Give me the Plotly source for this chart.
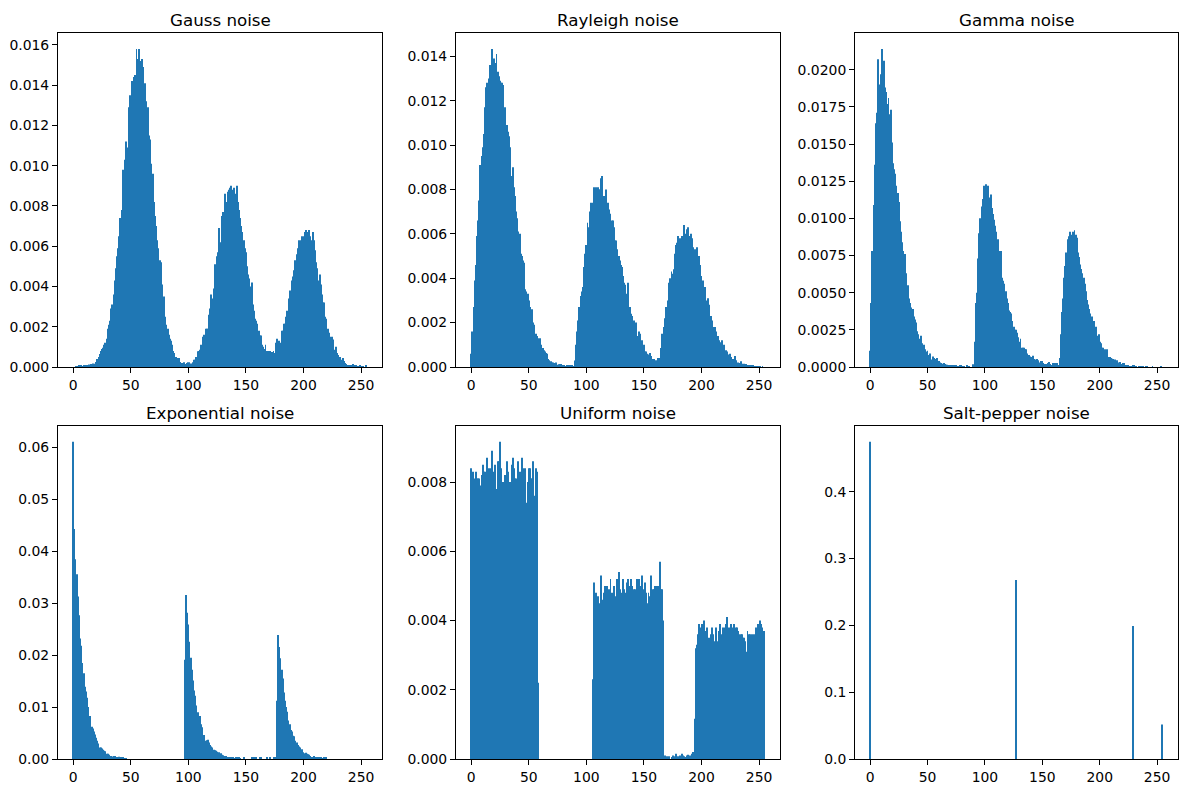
import plotly.graph_objects as go

bins = list(range(256))
x_ticks = [0, 50, 100, 150, 200, 250]

gauss_rows = [
    [0, 0, 0.00002, 0.00003, 0.00002, 0.00005, 0.00003, 0.00005, 0.00004, 0.00006, 0.00005, 0.00006, 0.00008, 0.0001, 0.00012, 0.00015],
    [0.00015, 0.00017, 0.00015, 0.00016, 0.00025, 0.0004, 0.0005, 0.00065, 0.0008, 0.0009, 0.00095, 0.0011, 0.0012, 0.0014, 0.0019, 0.0021],
    [0.0023, 0.0029, 0.0031, 0.0036, 0.0043, 0.0049, 0.0055, 0.0059, 0.0065, 0.0074, 0.0078, 0.0098, 0.0091, 0.0103, 0.0112, 0.0109],
    [0.0129, 0.0135, 0.0133, 0.0142, 0.0140, 0.0144, 0.0145, 0.0158, 0.0153, 0.0158, 0.0148, 0.0152, 0.0153, 0.0149, 0.0141, 0.0132],
    [0.0126, 0.0129, 0.0115, 0.0113, 0.0101, 0.0096, 0.0082, 0.0075, 0.0070, 0.0063, 0.0059, 0.0053, 0.0052, 0.0041, 0.0034, 0.0035],
    [0.0025, 0.0021, 0.0019, 0.0016, 0.0014, 0.0013, 0.0011, 0.0008, 0.0007, 0.0005, 0.0004, 0.00045, 0.00045, 0.00025, 0.0002, 0.0002],
    [0.00023, 0.00012, 0.00015, 0.0002, 0.00023, 0.00023, 0.00017, 0.0001, 0.00023, 0.00036, 0.00036, 0.0005, 0.00078, 0.0008, 0.00086, 0.0011],
    [0.0010, 0.0015, 0.0016, 0.0019, 0.0019, 0.0019, 0.0026, 0.0029, 0.0036, 0.0034, 0.0039, 0.0051, 0.0049, 0.0055, 0.0057, 0.0069],
    [0.0062, 0.0075, 0.0077, 0.0073, 0.0086, 0.0082, 0.0087, 0.0088, 0.0089, 0.0090, 0.0087, 0.0088, 0.0089, 0.0086, 0.0090, 0.0082],
    [0.0078, 0.0074, 0.0070, 0.0067, 0.0063, 0.0059, 0.0057, 0.0050, 0.0046, 0.0044, 0.0040, 0.0042, 0.0031, 0.0028, 0.0024, 0.0023],
    [0.00215, 0.0018, 0.00156, 0.00156, 0.0011, 0.0010, 0.0009, 0.0011, 0.0008, 0.0008, 0.0008, 0.0008, 0.0007, 0.00075, 0.0008, 0.0007],
    [0.0012, 0.0014, 0.0011, 0.0013, 0.0012, 0.0018, 0.0018, 0.00215, 0.00215, 0.0025, 0.0028, 0.0034, 0.0038, 0.0037, 0.0043, 0.0045],
    [0.0048, 0.0053, 0.0056, 0.0059, 0.0063, 0.0055, 0.0063, 0.0065, 0.0065, 0.0067, 0.0068, 0.0067, 0.0064, 0.0068, 0.0065, 0.0063],
    [0.0067, 0.0063, 0.0058, 0.0052, 0.0049, 0.0043, 0.0046, 0.0041, 0.0036, 0.0032, 0.0032, 0.0025, 0.0024, 0.0019, 0.0017, 0.0015],
    [0.0014, 0.0015, 0.00136, 0.00086, 0.0010, 0.0007, 0.0006, 0.0005, 0.0005, 0.00036, 0.00045, 0.0003, 0.0002, 0.00015, 0.0001, 0.0001],
    [0.0001, 0.00008, 0.00008, 0.00015, 0.00005, 0.00008, 0.00005, 0.00003, 0.00002, 0.00005, 0.00002, 0, 0.00002, 0, 0.00005, 0],
]

rayleigh_rows = [
    [0.0006, 0.0016, 0.0027, 0.0039, 0.0046, 0.0059, 0.0066, 0.0075, 0.0091, 0.0095, 0.0099, 0.0105, 0.0117, 0.0126, 0.0128, 0.0130],
    [0.0136, 0.0134, 0.01433, 0.0134, 0.0139, 0.0137, 0.0141, 0.0133, 0.0131, 0.0129, 0.0128, 0.0128, 0.0127, 0.0117, 0.0109, 0.0109],
    [0.0106, 0.0104, 0.0099, 0.0086, 0.0090, 0.0081, 0.0077, 0.0070, 0.0067, 0.0061, 0.0060, 0.0051, 0.0050, 0.0048, 0.0047, 0.0035],
    [0.0034, 0.0033, 0.0030, 0.0027, 0.0025, 0.0026, 0.0020, 0.0019, 0.0015, 0.0014, 0.0013, 0.0012, 0.0013, 0.0010, 0.00086, 0.00075],
    [0.0007, 0.00063, 0.0006, 0.00036, 0.0003, 0.00026, 0.0002, 0.0002, 0.00018, 0.00015, 0.0002, 0.0001, 0.00012, 0.00013, 0.00013, 0.00008],
    [0.00008, 0.00006, 0.00003, 0.00005, 0.00005, 0.00008, 0.00002, 0.00006, 0.00005, 0.00003, 0.00029, 0.0010, 0.0016, 0.0021, 0.0027, 0.0032],
    [0.0034, 0.0036, 0.0045, 0.0051, 0.0055, 0.0065, 0.0063, 0.0070, 0.0074, 0.0071, 0.0074, 0.0081, 0.0081, 0.0072, 0.0081, 0.0080],
    [0.0080, 0.0085, 0.0086, 0.0077, 0.0076, 0.0080, 0.0072, 0.0074, 0.0071, 0.0069, 0.0066, 0.0066, 0.0063, 0.0057, 0.0057, 0.0053],
    [0.0050, 0.0048, 0.0046, 0.0045, 0.0041, 0.0038, 0.0037, 0.0033, 0.0038, 0.0027, 0.0027, 0.0024, 0.0023, 0.0021, 0.0019, 0.0020],
    [0.0014, 0.0014, 0.0016, 0.0015, 0.0012, 0.0009, 0.0010, 0.0007, 0.0007, 0.0006, 0.00056, 0.00063, 0.0005, 0.0003, 0.00036, 0.00036],
    [0.0003, 0.0003, 0.0004, 0.00018, 0.0004, 0.00086, 0.0015, 0.0018, 0.0022, 0.0027, 0.0026, 0.0030, 0.0038, 0.0040, 0.0043, 0.0042],
    [0.0044, 0.0051, 0.0055, 0.0056, 0.0059, 0.0058, 0.0056, 0.0059, 0.0059, 0.0064, 0.0060, 0.0062, 0.0063, 0.0059, 0.0057, 0.0060],
    [0.0058, 0.0054, 0.0053, 0.0051, 0.0054, 0.0050, 0.0050, 0.0046, 0.0041, 0.0039, 0.0036, 0.0036, 0.0030, 0.0028, 0.0031, 0.0028],
    [0.0023, 0.0021, 0.0017, 0.0018, 0.0018, 0.0016, 0.0014, 0.0012, 0.0011, 0.0011, 0.0012, 0.0010, 0.0010, 0.00075, 0.0007, 0.00056],
    [0.00045, 0.0006, 0.00045, 0.00036, 0.00028, 0.0005, 0.0003, 0.00018, 0.0002, 0.00018, 0.00026, 0.00015, 0.00008, 0.00015, 0.0001, 0.00013],
    [0.00008, 0.00008, 0.00008, 0.00003, 0.00008, 0.00005, 0.00004, 0.00004, 0, 0.00004, 0, 0.00004, 0, 0.00004, 0, 0],
]

gamma_rows = [
    [0.0011, 0.0043, 0.0078, 0.0109, 0.0136, 0.0164, 0.0171, 0.0207, 0.0190, 0.0197, 0.0214, 0.0203, 0.0206, 0.0188, 0.0185, 0.0177],
    [0.0181, 0.0170, 0.0173, 0.0151, 0.0137, 0.0133, 0.0130, 0.0122, 0.0117, 0.0111, 0.0098, 0.0091, 0.0084, 0.0078, 0.0076, 0.0063],
    [0.0050, 0.0055, 0.0046, 0.0043, 0.0040, 0.0039, 0.0034, 0.0032, 0.0030, 0.0024, 0.0022, 0.0019, 0.0021, 0.0016, 0.0013, 0.0015],
    [0.0012, 0.00105, 0.0011, 0.0008, 0.0009, 0.00045, 0.0005, 0.0007, 0.0006, 0.00054, 0.0006, 0.0004, 0.0004, 0.0003, 0.00027, 0.00022],
    [0.00027, 0.0002, 0.00015, 0.00015, 0.00013, 0.0001, 0.0001, 0.0001, 0.00008, 0.0001, 0.00005, 0.00008, 0.00005, 0.00003, 0.00008, 0.00008],
    [0.00005, 0.00003, 0.00005, 0, 0.00008, 0, 0.00003, 0, 0, 0, 0.00018, 0.0017, 0.0043, 0.0050, 0.0073, 0.0090],
    [0.0100, 0.0108, 0.0113, 0.0122, 0.0121, 0.0123, 0.0117, 0.0122, 0.0114, 0.0116, 0.0107, 0.0103, 0.0099, 0.0095, 0.0091, 0.0086],
    [0.0078, 0.0072, 0.0078, 0.0060, 0.0058, 0.0056, 0.0051, 0.0046, 0.0043, 0.0038, 0.0037, 0.0036, 0.0031, 0.0027, 0.0025, 0.0025],
    [0.0023, 0.0020, 0.0017, 0.0019, 0.0013, 0.0013, 0.0013, 0.0012, 0.0012, 0.0009, 0.0008, 0.0007, 0.00067, 0.0006, 0.00076, 0.00054],
    [0.0005, 0.00054, 0.00045, 0.0003, 0.0002, 0.0004, 0.0004, 0.00027, 0.0002, 0.0002, 0.0001, 0.00027, 0.00034, 0.0002, 0.0001, 0.00027],
    [0.0001, 0.00027, 0.00027, 0.00027, 0.0001, 0.0006, 0.0022, 0.0037, 0.0046, 0.0060, 0.0068, 0.0077, 0.0086, 0.0088, 0.0091, 0.0087],
    [0.0089, 0.0091, 0.0092, 0.0089, 0.0087, 0.0077, 0.0074, 0.0069, 0.0066, 0.0063, 0.0060, 0.0056, 0.0051, 0.0045, 0.0042, 0.0039],
    [0.0036, 0.0034, 0.0030, 0.0031, 0.0026, 0.0027, 0.0021, 0.0022, 0.0017, 0.0016, 0.0013, 0.0013, 0.0012, 0.0012, 0.0012, 0.00067],
    [0.00067, 0.00067, 0.0006, 0.00055, 0.00054, 0.0005, 0.0004, 0.00045, 0.0003, 0.0002, 0.00034, 0.0002, 0.00027, 0.00027, 0.0001, 0.0001],
    [0.0001, 0.0001, 0.00005, 0.00005, 0.00005, 0.0001, 0.0001, 0.00005, 0.00005, 0, 0.00005, 0, 0.00005, 0, 0.00005, 0],
    [0.00005, 0.00005, 0, 0, 0, 0, 0.00005, 0, 0, 0, 0, 0, 0, 0.00005, 0, 0],
]

Z16 = [0] * 16
exponential_rows = [
    [0.0611, 0.0443, 0.0385, 0.0356, 0.0313, 0.0277, 0.0232, 0.0218, 0.0185, 0.0165, 0.0139, 0.0130, 0.0118, 0.0100, 0.0083, 0.0083],
    [0.0062, 0.0059, 0.0053, 0.0047, 0.0041, 0.0035, 0.0030, 0.0022, 0.0022, 0.0020, 0.0018, 0.0016, 0.0015, 0.0010, 0.0010, 0.0008],
    [0.0006, 0.0006, 0.0005, 0.0006, 0.0006, 0.0004, 0.0003, 0.00025, 0.00045, 0.00025, 0.00025, 0.00025, 0.0001, 0.0001, 0.00005, 0],
    Z16, Z16, Z16,
    [0, 0.0191, 0.0316, 0.0282, 0.0259, 0.0226, 0.0195, 0.0172, 0.0151, 0.0132, 0.0122, 0.0103, 0.0090, 0.0083, 0.0083, 0.0067],
    [0.0061, 0.0044, 0.0046, 0.0035, 0.0036, 0.0037, 0.0032, 0.0027, 0.0024, 0.0022, 0.0018, 0.0017, 0.0016, 0.0014, 0.0011, 0.0013],
    [0.0011, 0.0008, 0.0007, 0.0006, 0.0006, 0.0006, 0.0004, 0.0003, 0.0003, 0.0003, 0.0003, 0.0002, 0.0001, 0.0003, 0.0003, 0.0003],
    [0.0002, 0.0001, 0, 0, 0.0002, 0, 0, 0, 0, 0, 0, 0.0002, 0.0002, 0.0002, 0, 0.0002],
    [0, 0, 0.0002, 0.0002, 0, 0, 0, 0, 0.0002, 0, 0, 0.0002, 0, 0, 0.0002, 0.0002],
    [0, 0.0112, 0.0239, 0.0216, 0.0194, 0.0172, 0.0155, 0.0128, 0.0112, 0.0100, 0.0091, 0.0074, 0.0067, 0.0056, 0.0053, 0.0045],
    [0.0044, 0.0035, 0.0032, 0.0027, 0.0024, 0.0022, 0.0017, 0.0019, 0.0013, 0.0011, 0.0012, 0.0010, 0.0009, 0.0008, 0.0006, 0.0004],
    [0.0003, 0.0006, 0.0002, 0.0003, 0.0003, 0.0003, 0.0003, 0.0003, 0.0001, 0, 0.0002, 0.0002, 0.0002, 0, 0, 0],
    Z16, Z16,
]

uniform_rows = [
    [0.0084, 0.0083, 0.0083, 0.0081, 0.0083, 0.0081, 0.0081, 0.0081, 0.0079, 0.0082, 0.0085, 0.0083, 0.0083, 0.0081, 0.0087, 0.0084],
    [0.0084, 0.0080, 0.0089, 0.0083, 0.0081, 0.0085, 0.0078, 0.0086, 0.0086, 0.00916, 0.0084, 0.0076, 0.0080, 0.0082, 0.0078, 0.0086],
    [0.0083, 0.0080, 0.0080, 0.0085, 0.0087, 0.0084, 0.0081, 0.0081, 0.0078, 0.0086, 0.0083, 0.0082, 0.0087, 0.0084, 0.0080, 0.0084],
    [0.0074, 0.0080, 0.0084, 0.0084, 0.0081, 0.0081, 0.0086, 0.0076, 0.0084, 0.0083, 0.0022, 0, 0, 0, 0, 0],
    Z16, Z16,
    [0, 0, 0, 0, 0, 0, 0, 0, 0, 0, 0.0023, 0.0051, 0.0048, 0.0046, 0.0047, 0.0045],
    [0.0042, 0.0053, 0.0046, 0.0048, 0.0050, 0.0049, 0.0050, 0.0047, 0.0049, 0.0052, 0.0048, 0.0044, 0.0050, 0.0046, 0.0047, 0.0052],
    [0.0054, 0.0049, 0.0048, 0.0045, 0.0052, 0.0049, 0.0048, 0.0051, 0.0052, 0.0049, 0.0050, 0.0052, 0.0050, 0.0049, 0.0049, 0.0044],
    [0.0052, 0.0051, 0.0052, 0.0050, 0.0053, 0.0047, 0.0049, 0.0051, 0.0048, 0.0045, 0.0048, 0.0047, 0.0053, 0.0048, 0.0049, 0.0049],
    [0.0050, 0.0050, 0.0050, 0.0048, 0.0057, 0.0049, 0.0049, 0.0040, 0.0001, 0.00005, 0.00008, 0.00005, 0.00008, 0, 0.00005, 0.0001],
    [0.00008, 0.00005, 0.00015, 0.00005, 0.00008, 0.0001, 0.00005, 0.00015, 0.0001, 0.00008, 0.00005, 0.0001, 0.00012, 0.0001, 0.00005, 0.0001],
    [0.00015, 0.0002, 0.00116, 0.0032, 0.0033, 0.0036, 0.0039, 0.0038, 0.0039, 0.0039, 0.0040, 0.0037, 0.0037, 0.0038, 0.0035, 0.0035],
    [0.0036, 0.0038, 0.0036, 0.0034, 0.0032, 0.0038, 0.0034, 0.0037, 0.0039, 0.0036, 0.0031, 0.0038, 0.0038, 0.0039, 0.0041, 0.0038],
    [0.0035, 0.0038, 0.0039, 0.0038, 0.0039, 0.0037, 0.0038, 0.0038, 0.0037, 0.0036, 0.0036, 0.0036, 0.0035, 0.0035, 0.0034, 0.0031],
    [0.0037, 0.0036, 0.0036, 0.0032, 0.0036, 0.0034, 0.0036, 0.0038, 0.0035, 0.0039, 0.0033, 0.0040, 0.0039, 0.0038, 0.0037, 0],
]

saltpepper_bins = [0, 127, 229, 254]
saltpepper_values = [0.4745, 0.268, 0.199, 0.0515]


def flat(rows):
    out = [v for r in rows for v in r]
    assert len(out) == 256, len(out)
    return out


gauss = flat(gauss_rows)
rayleigh = flat(rayleigh_rows)
gamma = flat(gamma_rows)
exponential = flat(exponential_rows)
uniform = flat(uniform_rows)
saltpepper = [0.0] * 256
for b, v in zip(saltpepper_bins, saltpepper_values):
    saltpepper[b] = v

panels = [
    ("Gauss noise", gauss, 0.002, ".3f"),
    ("Rayleigh noise", rayleigh, 0.002, ".3f"),
    ("Gamma noise", gamma, 0.0025, ".4f"),
    ("Exponential noise", exponential, 0.01, ".2f"),
    ("Uniform noise", uniform, 0.002, ".3f"),
    ("Salt-pepper noise", saltpepper, 0.1, ".1f"),
]

# page body has an 8px default margin; the figure is shrunk and shifted to compensate
OFF = 8
W, H = 1188 - OFF, 796 - OFF
L, R, T, B = 58 - OFF, 1178 - OFF, 33 - OFF, 759 - OFF
PW, PH = R - L, B - T
xpix = [(58 - OFF, 382 - OFF), (456 - OFF, 780 - OFF), (855 - OFF, 1178 - OFF)]
ypix = [(33 - OFF, 367 - OFF), (426 - OFF, 759 - OFF)]
xdoms = [[(a - L) / PW, (b - L) / PW] for a, b in xpix]
ydoms = [[(B - b) / PH, (B - a) / PH] for a, b in ypix]

fig = go.Figure()
font = "DejaVu Sans"
annotations = []
layout = {}
for i, (title, vals, dt, fmt) in enumerate(panels):
    r, c = divmod(i, 3)
    n = i + 1
    xa = "x" if n == 1 else f"x{n}"
    ya = "y" if n == 1 else f"y{n}"
    fig.add_trace(go.Bar(x=bins, y=vals, width=0.8, marker=dict(color="#1f77b4", line=dict(width=0)),
                         xaxis=xa, yaxis=ya, showlegend=False))
    ymax = max(vals) * 1.05
    common = dict(showline=True, linecolor="black", linewidth=1, mirror=True, ticks="outside",
                  ticklen=5, tickwidth=1, tickcolor="black", showgrid=False, zeroline=False,
                  automargin=False, tickfont=dict(family=font, size=13.9, color="black"))
    layout["xaxis" if n == 1 else f"xaxis{n}"] = dict(
        domain=xdoms[c], anchor=ya, range=[-13.19, 268.19], tickvals=x_ticks,
        ticktext=[str(t) for t in x_ticks], **common)
    layout["yaxis" if n == 1 else f"yaxis{n}"] = dict(
        domain=ydoms[r], anchor=xa, range=[0, ymax], tick0=0, dtick=dt, tickformat=fmt, **common)
    annotations.append(dict(text=title, x=(xdoms[c][0] + xdoms[c][1]) / 2, y=ydoms[r][1],
                            xref="paper", yref="paper", xanchor="center", yanchor="bottom",
                            yshift=1, showarrow=False, font=dict(family=font, size=16.7, color="black")))

fig.update_layout(width=W, height=H, margin=dict(l=L, r=W - R, t=T, b=H - B, pad=0), autosize=False,
                  paper_bgcolor="white", plot_bgcolor="white", bargap=0.2,
                  annotations=annotations, font=dict(family=font), **layout)

fig.write_html("out.html")
